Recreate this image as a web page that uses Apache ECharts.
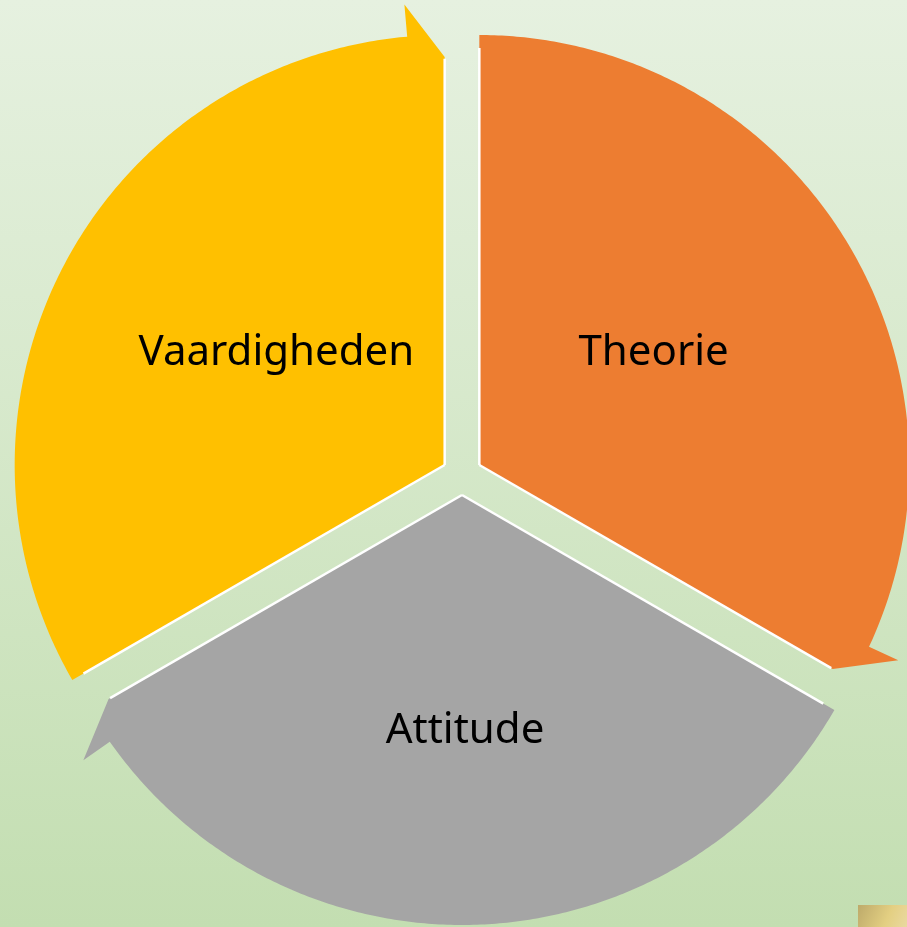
<!DOCTYPE html>
<html><head><meta charset="utf-8">
<script src="https://cdn.jsdelivr.net/npm/echarts@6/dist/echarts.min.js"></script>
<style>html,body{margin:0;padding:0;width:907px;height:927px;overflow:hidden}#c{width:907px;height:927px}</style>
</head><body><div id="c"></div>
<script>
// Data
const categories = ['Theorie', 'Attitude', 'Vaardigheden'];
const values = [1, 1, 1];
const colors = ['#ED7D31', '#A5A5A5', '#FFC000'];

// Layout
const CX = 462, CY = 475, R = 430, EXPLODE = 20, START = 90;
const total = values.reduce((a, b) => a + b, 0);
const rad = d => d * Math.PI / 180;

function renderItem(params, api) {
  const i = params.dataIndex;
  let before = 0;
  for (let k = 0; k < i; k++) before += values[k];
  const a0 = START - before / total * 360;
  const a1 = a0 - values[i] / total * 360;
  const mid = (a0 + a1) / 2;
  const ox = CX + EXPLODE * Math.cos(rad(mid));
  const oy = CY - EXPLODE * Math.sin(rad(mid));
  const P = (r, a) => [ox + r * Math.cos(rad(a)), oy - r * Math.sin(rad(a))];
  const aBase = a1 + 5;
  const pts = [[ox, oy]];
  for (let a = a0; a > aBase; a -= 0.5) pts.push(P(R, a));
  pts.push(P(R, aBase));
  pts.push(P(R * 1.075, aBase));
  pts.push(P(R * 0.949, a1));
  const lx = ox + 0.46 * R * Math.cos(rad(mid)) + 3;
  const ly = oy - 0.54 * R * Math.sin(rad(mid)) + 4;
  return {
    type: 'group',
    children: [
      { type: 'polygon', shape: { points: pts }, style: { fill: colors[i] } },
      { type: 'polyline', shape: { points: [P(0, a0), P(R * 0.97, a0)] },
        style: { stroke: '#ffffff', lineWidth: 2.5, fill: null } },
      { type: 'polyline', shape: { points: [P(0, a1), P(R * 0.945, a1)] },
        style: { stroke: '#ffffff', lineWidth: 2.5, fill: null } },
      { type: 'text', x: lx, y: ly,
        style: { text: categories[i], fill: '#000000', font: '42px "Comic Sans MS", "Noto Sans", sans-serif',
                 align: 'center', verticalAlign: 'middle' } }
    ]
  };
}

const chart = echarts.init(document.getElementById('c'), null, { renderer: 'canvas' });
chart.setOption({
  animation: false,
  graphic: [
    { type: 'rect', z: -10, shape: { x: 0, y: 0, width: 907, height: 927 },
      style: { fill: new echarts.graphic.LinearGradient(0, 0, 0, 1, [
        { offset: 0, color: '#e6f1e0' }, { offset: 1, color: '#c3deb1' }]) } },
    { type: 'rect', z: 10, shape: { x: 858, y: 905, width: 49, height: 22 },
      style: { fill: new echarts.graphic.LinearGradient(0, 0, 1, 1, [
        { offset: 0, color: '#bdaa6a' }, { offset: 0.6, color: '#e3cf82' }, { offset: 1, color: '#ead9a0' }]) } }
  ],
  series: [{
    type: 'custom',
    coordinateSystem: 'none',
    renderItem: renderItem,
    data: values
  }]
});
</script>
</body></html>
